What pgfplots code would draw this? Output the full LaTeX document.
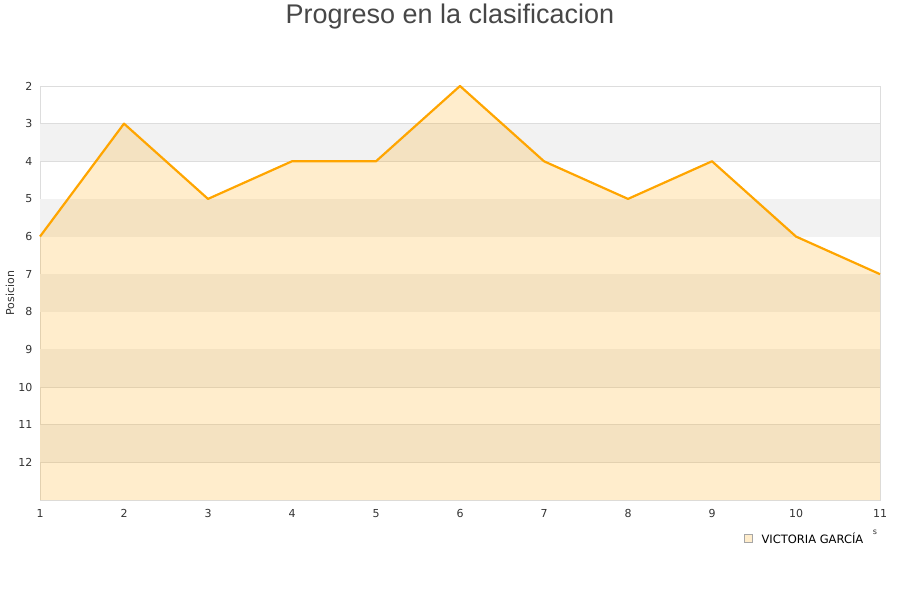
\documentclass[border=0pt]{standalone}
\usepackage{pgfplots}
\pgfplotsset{compat=1.18}
\usepackage{fontspec}
\setmainfont{DejaVu Sans}
\newfontfamily\titlefont{Liberation Sans}
\definecolor{lineorange}{HTML}{FFA500}
\definecolor{bandgray}{HTML}{F2F2F2}
\definecolor{gridgray}{HTML}{DDDDDD}
\definecolor{txt}{HTML}{333333}
\begin{document}
\begin{tikzpicture}[x=1pt,y=1pt]
\path[use as bounding box] (0,0) rectangle (900,600);
\node[font=\titlefont\fontsize{27}{27}\selectfont, text=txt!90] at (450,583) {Progreso en la clasificacion};
\begin{axis}[
  at={(40pt,100pt)}, anchor=south west,
  scale only axis, width=840pt, height=414pt,
  xmin=1, xmax=11, ymin=2, ymax=13,
  y dir=reverse,
  xtick={1,...,11}, ytick={2,...,12},
  axis line style={gridgray},
  ymajorgrids, major grid style={gridgray, line width=0.8pt},
  tick style={draw=none},
  ticklabel style={font=\fontsize{11}{11}\selectfont, text=txt},
  /pgf/number format/assume math mode=true,
  yticklabel style={xshift=-4pt},
  xticklabel style={yshift=-6pt},
  clip=false,
]
% alternating background bands
\foreach \b in {3,5,7,9,11} {
  \edef\temp{\noexpand\fill[bandgray] (axis cs:1,\b) rectangle (axis cs:11,\b+1);}
  \temp
}
\addplot[draw=none, fill=lineorange, fill opacity=0.2] coordinates {
  (1,13) (1,6) (2,3) (3,5) (4,4) (5,4) (6,2) (7,4) (8,5) (9,4) (10,6) (11,7) (11,13)
} -- cycle;
\addplot[lineorange, line width=2.2pt, line join=round] coordinates {
  (1,6) (2,3) (3,5) (4,4) (5,4) (6,2) (7,4) (8,5) (9,4) (10,6) (11,7)
};
\end{axis}
\node[rotate=90, font=\fontsize{11}{11}\selectfont, text=txt] at (10,307) {Posicion};
\draw[gray!70, line width=0.6pt, fill=lineorange!20] (744,58) rectangle (752,66);
\node[anchor=west, font=\fontsize{11.5}{11.5}\selectfont, text=black] at (758,62) {VICTORIA GARCÍA};
\node[font=\fontsize{8}{8}\selectfont, text=txt] at (875,68) {s};
\end{tikzpicture}
\end{document}
